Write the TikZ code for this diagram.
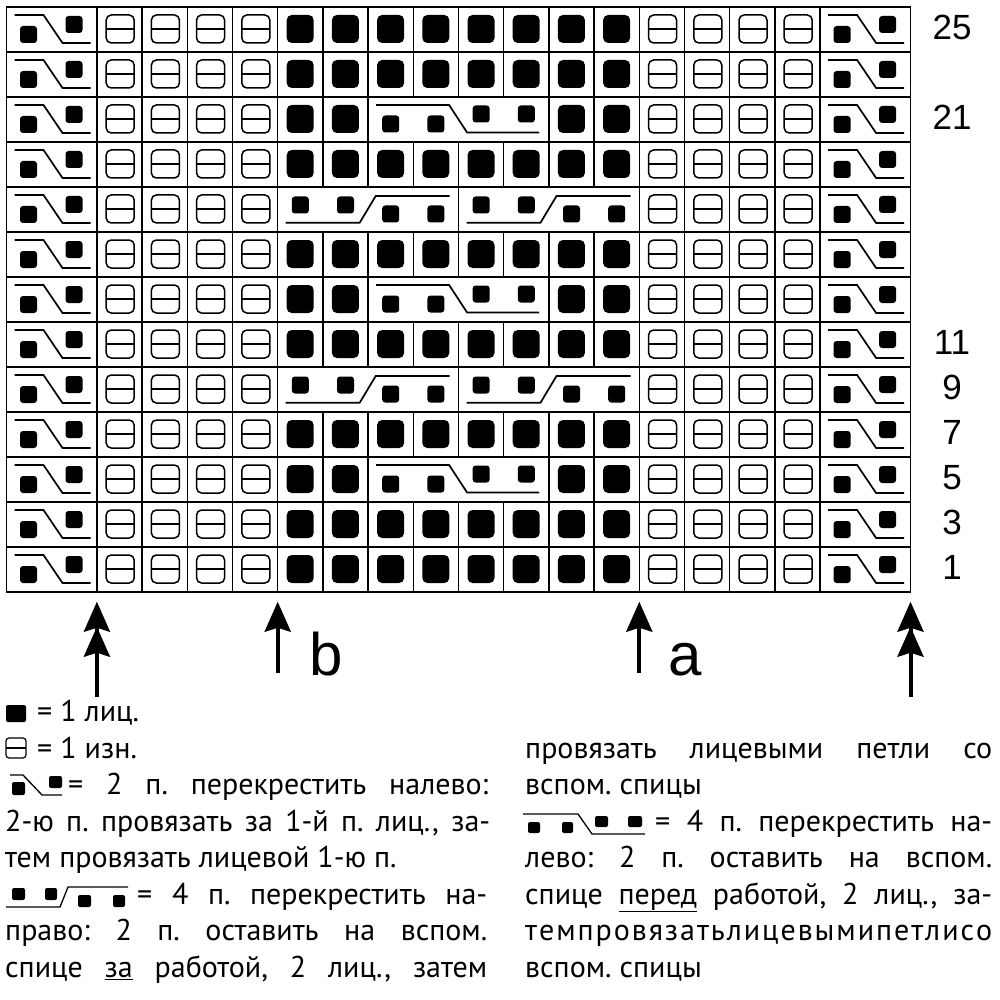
\documentclass[tikz,border=0pt]{standalone}
\usepackage{fontspec}
\setmainfont{PT Sans}
\newfontfamily\numfont{Liberation Sans}
\usetikzlibrary{arrows.meta}
\frenchspacing
\tikzset{
 gridline/.style={line width=1.3pt, draw=black},
 purlsym/.style={line width=1.5pt, rounded corners=5pt},
 knitsym/.style={fill=black, rounded corners=5pt},
 crossline/.style={line width=1.7pt},
 crosssq/.style={fill=black, rounded corners=3pt},
 legline/.style={line width=1.3pt},
 legsq/.style={fill=black, rounded corners=2pt},
 txt/.style={inner sep=0pt, font=\fontsize{30}{35}\selectfont, anchor=base west},
 rownum/.style={inner sep=0pt, font=\numfont\fontsize{35}{40}\selectfont},
 letter/.style={inner sep=0pt, font=\numfont\fontsize{60}{66}\selectfont, anchor=base west},
 bigarrow/.style={line width=4pt, -{Stealth[length=30pt,width=26pt,inset=4pt]}},
}
\newcommand\gx{\hspace{0pt plus 1fil}}
\newcommand\kcell[2]{%
  \pgfmathsetmacro\xx{6.5+#1*45.2}\pgfmathsetmacro\yy{7+#2*45}%
  \draw[gridline] (\xx,\yy) rectangle ++(45.2,45);
  \fill[knitsym] (\xx+9,\yy+8) rectangle ++(27,28);
}
\newcommand\pcell[2]{%
  \pgfmathsetmacro\xx{6.5+#1*45.2}\pgfmathsetmacro\yy{7+#2*45}%
  \draw[gridline] (\xx,\yy) rectangle ++(45.2,45);
  \draw[purlsym] (\xx+9.3,\yy+8) rectangle ++(28,28);
  \draw[line width=1.5pt] (\xx+9.3,\yy+22) -- ++(28,0);
}
\newcommand\ccell[2]{%
  \pgfmathsetmacro\xx{6.5+#1*45.2}\pgfmathsetmacro\yy{7+#2*45}%
  \draw[gridline] (\xx,\yy) rectangle ++(90.4,45);
  \draw[crossline] (\xx+8,\yy+8) -- (\xx+37,\yy+8) -- (\xx+56,\yy+36) -- (\xx+84,\yy+36);
  \fill[crosssq] (\xx+13.5,\yy+19) rectangle ++(17,17);
  \fill[crosssq] (\xx+59,\yy+9) rectangle ++(17,17);
}
\newcommand\lcell[2]{%
  \pgfmathsetmacro\xx{6.5+#1*45.2}\pgfmathsetmacro\yy{7+#2*45}%
  \draw[gridline] (\xx,\yy) rectangle ++(180.8,45);
  \draw[crossline] (\xx+8,\yy+8) -- (\xx+81,\yy+8) -- (\xx+99,\yy+35.5) -- (\xx+171,\yy+35.5);
  \fill[crosssq] (\xx+14.1,\yy+18.5) rectangle ++(17,17);
  \fill[crosssq] (\xx+59.3,\yy+18.5) rectangle ++(17,17);
  \fill[crosssq] (\xx+104.5,\yy+8.5) rectangle ++(17,17);
  \fill[crosssq] (\xx+149.7,\yy+8.5) rectangle ++(17,17);
}
\newcommand\rcell[2]{%
  \pgfmathsetmacro\xx{6.5+#1*45.2}\pgfmathsetmacro\yy{7+#2*45}%
  \draw[gridline] (\xx,\yy) rectangle ++(180.8,45);
  \draw[crossline] (\xx+8,\yy+35.7) -- (\xx+82,\yy+35.7) -- (\xx+98,\yy+9) -- (\xx+172,\yy+9);
  \fill[crosssq] (\xx+14.1,\yy+9.5) rectangle ++(17,17);
  \fill[crosssq] (\xx+59.3,\yy+9.5) rectangle ++(17,17);
  \fill[crosssq] (\xx+104.5,\yy+18.5) rectangle ++(17,17);
  \fill[crosssq] (\xx+149.7,\yy+18.5) rectangle ++(17,17);
}
\begin{document}
\begin{tikzpicture}[x=1pt,y=-1pt]
\useasboundingbox (0,0) rectangle (1000,1000);
\fill[white] (0,0) rectangle (1000,1000);
% ---- chart ----
\foreach \r in {0,...,12} {
  \ccell{0}{\r}
  \foreach \c in {2,3,4,5,14,15,16,17} { \pcell{\c}{\r} }
  \ccell{18}{\r}
}
\foreach \r in {0,1,3,5,7,9,11,12} {
  \foreach \c in {6,...,13} { \kcell{\c}{\r} }
}
\foreach \r in {2,6,10} {
  \foreach \c in {6,7,12,13} { \kcell{\c}{\r} }
  \lcell{8}{\r}
}
\foreach \r in {4,8} {
  \rcell{6}{\r}
  \rcell{10}{\r}
}
\draw[line width=1.5pt] (6.5,7) rectangle (910.5,592);
% ---- row numbers ----
\foreach \n/\r in {25/0,21/2,11/7,9/8,7/9,5/10,3/11,1/12} {
  \node[rownum] (row\n) at (952,{7+45*\r+22.5-2}) {\n};
}
% ---- arrows ----
\coordinate (a1s) at (96.9,697);
\coordinate (a1t) at (96.9,601.7);
\coordinate (a1u) at (96.9,626.7);
\coordinate (bs) at (277.7,673);
\coordinate (bt) at (277.7,601.7);
\coordinate (as) at (639.3,673);
\coordinate (at) at (639.3,601.7);
\coordinate (a2s) at (910.5,697);
\coordinate (a2t) at (910.5,601.7);
\coordinate (a2u) at (910.5,626.7);
\draw[bigarrow] (a1s) -- (a1t);
\draw[bigarrow] (a1s) -- (a1u);
\draw[bigarrow] (bs) -- (bt);
\draw[bigarrow] (as) -- (at);
\draw[bigarrow] (a2s) -- (a2t);
\draw[bigarrow] (a2s) -- (a2u);
\node[letter] (lb) at (309,675) {b};
\node[letter] (la) at (668,675) {a};
% ---- legend symbols ----
\fill[legsq] (6,705) rectangle (26,722);
\draw[line width=1.2pt, rounded corners=3pt] (6,738) rectangle (26,758);
\draw[line width=1.2pt] (6,748) -- (26,748);
% 2-st cross
\draw[legline] (10,775) -- (23,775) -- (42,795) -- (62,795);
\fill[legsq] (12,782) rectangle (25,795);
\fill[legsq] (49,776) rectangle (62,788);
% 4-st right cross
\draw[legline] (6,907) -- (60,907) -- (68,887) -- (128,887);
\fill[legsq] (12,888) rectangle (25,900);
\fill[legsq] (45,888) rectangle (57,900);
\fill[legsq] (78,895) rectangle (91,907);
\fill[legsq] (113,895) rectangle (125,907);
% 4-st left cross
\draw[legline] (523,814) -- (578,814) -- (592,834) -- (645,834);
\fill[legsq] (528,822) rectangle (540,833);
\fill[legsq] (562,822) rectangle (573,833);
\fill[legsq] (595,816) rectangle (608,827);
\fill[legsq] (628,816) rectangle (642,827);
% ---- legend text ----
\node[txt] (l1) at (37,721.7) {= 1 лиц.};
\node[txt] (l2) at (37,758.2) {= 1 изн.};
\node[txt] (l3) at (68,794.7) {\makebox[420pt][s]{= 2 п. перекрестить налево:}};
\node[txt] (l4) at (5,831.2) {\makebox[485pt][s]{2-ю п. провязать за 1-й п. лиц., за-}};
\node[txt] (l5) at (5,867.7) {тем провязать лицевой 1-ю п.};
\node[txt] (l6) at (137,904.2) {\makebox[350pt][s]{= 4 п. перекрестить на-}};
\node[txt] (l7) at (5,940.7) {\makebox[482pt][s]{право: 2 п. оставить на вспом.}};
\node[txt] (l8) at (5,977.2) {\makebox[482pt][s]{спице \underline{за} работой, 2 лиц., затем}};
\node[txt] (r1) at (525,758.2) {\makebox[467pt][s]{провязать лицевыми петли со}};
\node[txt] (r2) at (525,794.7) {вспом. спицы};
\node[txt] (r3) at (655,831.2) {\makebox[337pt][s]{= 4 п. перекрестить на-}};
\node[txt] (r4) at (525,867.7) {\makebox[467pt][s]{лево: 2 п. оставить на вспом.}};
\node[txt] (r5) at (525,904.2) {\makebox[467pt][s]{спице \underline{перед} работой, 2 лиц., за-}};
\node[txt] (r6) at (525,940.7) {\makebox[467pt][s]{т\gx е\gx м\gx п\gx р\gx о\gx в\gx я\gx з\gx а\gx т\gx ь\gx л\gx и\gx ц\gx е\gx в\gx ы\gx м\gx и\gx п\gx е\gx т\gx л\gx и\gx с\gx о}};
\node[txt] (r7) at (525,977.2) {вспом. спицы};
\end{tikzpicture}
\end{document}
